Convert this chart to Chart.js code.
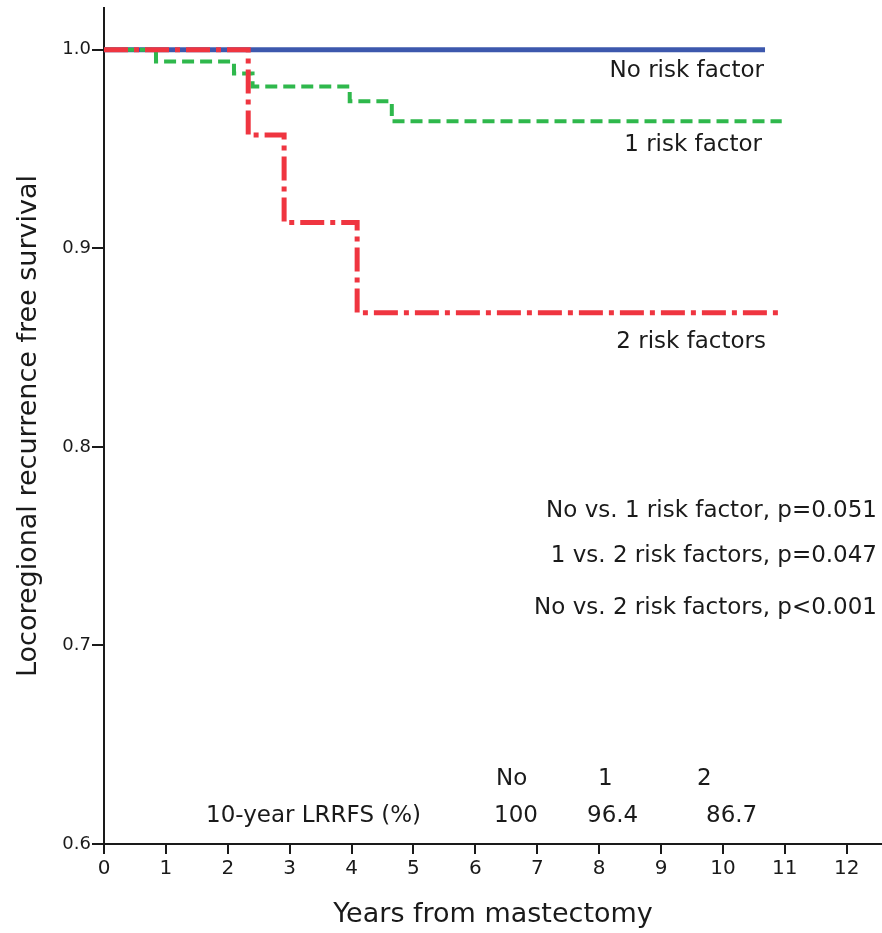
<!DOCTYPE html>
<html>
<head>
<meta charset="utf-8">
<script src="https://cdn.jsdelivr.net/npm/chart.js@4.4.1/dist/chart.umd.min.js"></script>
<style>
  html, body { margin: 0; padding: 0; background: #fff; }
  #wrap { width: 882px; height: 933px; }
</style>
</head>
<body>
<div id="wrap"><canvas id="kmChart"></canvas></div>
<script>
// Kaplan-Meier curves (years, survival)
const noRiskX = [0, 10.68];
const noRiskY = [1.0, 1.0];

const oneRiskX = [0, 0.84, 2.1, 2.4, 3.97, 4.65, 10.95];
const oneRiskY = [1.0, 0.994, 0.988, 0.9815, 0.974, 0.964, 0.964];

const twoRiskX = [0, 2.33, 2.91, 4.09, 10.95];
const twoRiskY = [1.0, 0.957, 0.913, 0.8675, 0.8675];

const xTicks = [0, 1, 2, 3, 4, 5, 6, 7, 8, 9, 10, 11, 12];
const yTicks = [0.6, 0.7, 0.8, 0.9, 1.0];

const tableHead = ["No", "1", "2"];
const tableVals = ["100", "96.4", "86.7"];

const FONT = "'DejaVu Sans', sans-serif";
const INK = "#1a1a1a";

function pts(xs, ys) {
    return xs.map((x, i) => ({ x: x, y: ys[i] }));
}

// Texte na wykresie
const notes = {
    id: "notes",
    afterDatasetsDraw(chart) {
        const ctx = chart.ctx;
        ctx.save();
        ctx.fillStyle = INK;
        ctx.textBaseline = "middle";
        ctx.font = "23px " + FONT;

        ctx.textAlign = "right";
        ctx.fillText("No risk factor", 764, 71);
        ctx.fillText("1 risk factor", 762, 145);
        ctx.fillText("2 risk factors", 766, 342);

        ctx.fillText("No vs. 1 risk factor, p=0.051", 877, 511);
        ctx.fillText("1 vs. 2 risk factors, p=0.047", 877, 556);
        ctx.fillText("No vs. 2 risk factors, p<0.001", 877, 608);

        ctx.textAlign = "left";
        const colX = [496, 598, 697];
        const valX = [494, 587, 706];
        tableHead.forEach((t, i) => ctx.fillText(t, colX[i], 779));
        ctx.fillText("10-year LRRFS (%)", 206, 816);
        tableVals.forEach((t, i) => ctx.fillText(t, valX[i], 816));
        ctx.restore();
    }
};

const kmChart = new Chart(document.getElementById("kmChart"), {
    type: "line",
    data: {
        datasets: [{
            label: "2 risk factors",
            data: pts(twoRiskX, twoRiskY),
            borderColor: "#ef3540",
            borderWidth: 5,
            borderDash: [24, 6, 5, 6],
            stepped: "before",
            pointRadius: 0,
            fill: false
        }, {
            label: "1 risk factor",
            data: pts(oneRiskX, oneRiskY),
            borderColor: "#2fb84c",
            borderWidth: 4,
            borderDash: [12, 6],
            stepped: "before",
            pointRadius: 0,
            fill: false
        }, {
            label: "No risk factor",
            data: pts(noRiskX, noRiskY),
            borderColor: "#3d58ad",
            borderWidth: 5,
            stepped: "before",
            pointRadius: 0,
            fill: false
        }]
    },
    options: {
        responsive: true,
        maintainAspectRatio: false,
        animation: false,
        layout: { padding: { top: 8, right: 0, left: 0, bottom: 0 } },
        plugins: {
            legend: { display: false },
            tooltip: { enabled: false }
        },
        scales: {
            x: {
                type: "linear",
                min: 0,
                max: 12.57,
                afterBuildTicks: s => { s.ticks = xTicks.map(v => ({ value: v })); },
                afterFit: s => { s.height = 89; s.paddingLeft = 0; s.paddingRight = 0; },
                grid: { drawOnChartArea: false, drawTicks: true, tickLength: 10, color: INK, lineWidth: 2 },
                border: { display: true, color: INK, width: 2 },
                ticks: { color: INK, font: { family: FONT, size: 20 }, padding: 3, maxRotation: 0 },
                title: {
                    display: true,
                    text: "Years from mastectomy",
                    color: INK,
                    font: { family: FONT, size: 27 },
                    padding: { top: 0, bottom: 2 }
                }
            },
            y: {
                type: "linear",
                min: 0.6,
                max: 1.021,
                afterBuildTicks: s => { s.ticks = yTicks.map(v => ({ value: v })); },
                afterFit: s => { s.width = 104; s.paddingTop = 0; s.paddingBottom = 0; },
                grid: { drawOnChartArea: false, drawTicks: true, tickLength: 12, color: INK, lineWidth: 2 },
                border: { display: true, color: INK, width: 2 },
                ticks: { color: INK, font: { family: FONT, size: 18 }, padding: 1, callback: v => v.toFixed(1) },
                title: {
                    display: true,
                    text: "Locoregional recurrence free survival",
                    color: INK,
                    font: { family: FONT, size: 27 },
                    padding: { top: 13, bottom: 0 }
                }
            }
        }
    },
    plugins: [notes]
});
</script>
</body>
</html>
